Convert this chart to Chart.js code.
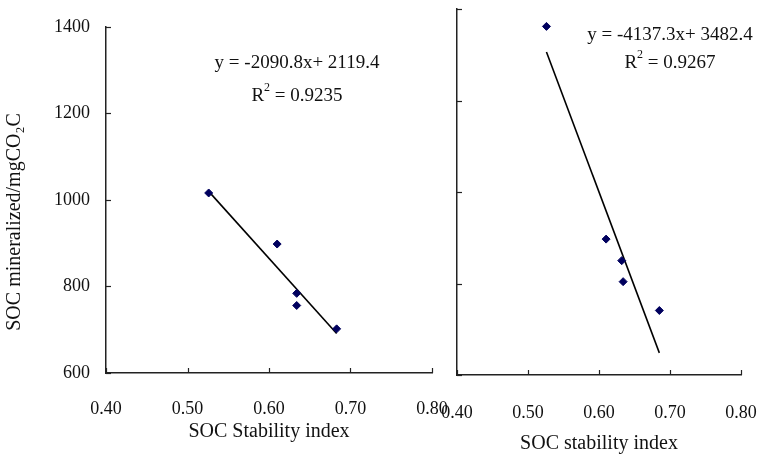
<!DOCTYPE html>
<html>
<head>
<meta charset="utf-8">
<title>SOC mineralized vs SOC stability index</title>
<script src="https://cdn.jsdelivr.net/npm/chart.js@4.4.0/dist/chart.umd.min.js"></script>
<style>
  body { margin: 0; background: #fff; }
  #wrap { position: relative; width: 760px; height: 455px; }
  canvas { position: absolute; top: 0; }
  #left { left: 0; }
  #right { left: 440px; }
</style>
</head>
<body>
<div id="wrap">
  <canvas id="left" width="450" height="455"></canvas>
  <canvas id="right" width="320" height="455"></canvas>
</div>
<script>
// axis ticks shared by both panels
var xTicks = [0.40, 0.50, 0.60, 0.70, 0.80];
var yTicks = [600, 800, 1000, 1200, 1400];

// left panel
var leftIndex = [0.526, 0.610, 0.634, 0.634, 0.683];
var leftMineral = [1016, 898, 784, 756, 702];
var leftFit = [-2090.8, 2119.4];   // slope, intercept
var leftR2 = '0.9235';

// right panel
var rightIndex = [0.526, 0.610, 0.632, 0.634, 0.685];
var rightMineral = [1362, 897, 850, 804, 741];
var rightFit = [-4137.3, 3482.4];
var rightR2 = '0.9267';

var SERIF = "'Liberation Serif', 'Times New Roman', serif";
var INK = '#111';
var AXIS = '#222';

function points(xs, ys) {
    return xs.map(function(x, i) { return {x: x, y: ys[i]}; });
}

// fitted line spans the observed index range
function fitLine(xs, fit) {
    var lo = Math.min.apply(null, xs), hi = Math.max.apply(null, xs);
    return [lo, hi].map(function(x) { return {x: x, y: fit[0] * x + fit[1]}; });
}

function eqText(fit) {
    return 'y = ' + fit[0].toFixed(1) + 'x+ ' + fit[1].toFixed(1);
}

// short tick marks pointing into the plot
var inwardTicks = {
    id: 'inwardTicks',
    afterDraw: function(chart) {
        var ctx = chart.ctx, a = chart.chartArea;
        var sx = chart.scales.x, sy = chart.scales.y;
        ctx.save();
        ctx.strokeStyle = AXIS;
        ctx.lineWidth = 1.2;
        sx.ticks.forEach(function(t) {
            var px = Math.round(sx.getPixelForValue(t.value)) + 0.5;
            ctx.beginPath(); ctx.moveTo(px, a.bottom); ctx.lineTo(px, a.bottom - 5); ctx.stroke();
        });
        sy.ticks.forEach(function(t) {
            var py = Math.round(sy.getPixelForValue(t.value)) + 0.5;
            ctx.beginPath(); ctx.moveTo(a.left, py); ctx.lineTo(a.left + 5, py); ctx.stroke();
        });
        ctx.restore();
    }
};

// equation, R^2 and axis titles
var notes = {
    id: 'notes',
    afterDraw: function(chart, args, o) {
        var ctx = chart.ctx;
        ctx.save();
        ctx.fillStyle = INK;
        ctx.textBaseline = 'middle';
        ctx.textAlign = 'center';

        ctx.font = '19px ' + SERIF;
        ctx.fillText(o.equation, o.eqX, o.eqY);

        // R² with raised 2
        var head = 'R', tail = ' = ' + o.r2;
        var w1 = ctx.measureText(head).width, w3 = ctx.measureText(tail).width;
        ctx.font = '12px ' + SERIF;
        var w2 = ctx.measureText('2').width;
        var x0 = o.eqX - (w1 + w2 + w3) / 2;
        ctx.textAlign = 'left';
        ctx.font = '19px ' + SERIF;
        ctx.fillText(head, x0, o.r2Y);
        ctx.font = '12px ' + SERIF;
        ctx.fillText('2', x0 + w1, o.r2Y - 8);
        ctx.font = '19px ' + SERIF;
        ctx.fillText(tail, x0 + w1 + w2, o.r2Y);

        ctx.textAlign = 'center';
        ctx.font = '20px ' + SERIF;
        ctx.fillText(o.xTitle, o.xTitleX, o.xTitleY);

        if (o.yTitle) {
            ctx.translate(o.yTitleX, o.yTitleY);
            ctx.rotate(-Math.PI / 2);
            ctx.fillText(o.yTitle, 0, 0);
        }
        ctx.restore();
    }
};

function panel(id, xs, ys, fit, r2, cfg) {
    var ctx = document.getElementById(id).getContext('2d');
    return new Chart(ctx, {
        type: 'scatter',
        data: {
            datasets: [{
                data: points(xs, ys),
                pointStyle: 'rectRot',
                pointRadius: 4,
                backgroundColor: '#00005e',
                borderColor: '#00005e',
                borderWidth: 1
            }, {
                data: fitLine(xs, fit),
                showLine: true,
                pointRadius: 0,
                borderColor: '#000',
                borderWidth: 1.6
            }]
        },
        options: {
            responsive: false,
            animation: false,
            devicePixelRatio: 1,
            layout: { padding: cfg.padding },
            plugins: {
                legend: { display: false },
                tooltip: { enabled: false },
                notes: {
                    equation: eqText(fit), r2: r2,
                    eqX: cfg.eqX, eqY: cfg.eqY, r2Y: cfg.r2Y,
                    xTitle: cfg.xTitle, xTitleX: cfg.xTitleX, xTitleY: cfg.xTitleY,
                    yTitle: cfg.yTitle, yTitleX: cfg.yTitleX, yTitleY: cfg.yTitleY
                }
            },
            scales: {
                x: {
                    type: 'linear',
                    min: xTicks[0],
                    max: xTicks[xTicks.length - 1],
                    afterBuildTicks: function(s) { s.ticks = xTicks.map(function(v) { return {value: v}; }); },
                    afterFit: function(s) {
                        s.height = cfg.xAxisHeight;
                        s.paddingLeft = 0;
                        s.paddingRight = 0;
                    },
                    grid: { drawOnChartArea: false, drawTicks: false },
                    border: { color: AXIS, width: 1.5 },
                    ticks: {
                        padding: cfg.xTickPad,
                        color: INK,
                        font: { family: SERIF, size: 18 },
                        maxRotation: 0,
                        autoSkip: false,
                        callback: function(v) { return Number(v).toFixed(2); }
                    }
                },
                y: {
                    type: 'linear',
                    min: yTicks[0],
                    max: yTicks[yTicks.length - 1],
                    afterBuildTicks: function(s) { s.ticks = yTicks.map(function(v) { return {value: v}; }); },
                    afterFit: function(s) { s.width = cfg.yAxisWidth; },
                    grid: { drawOnChartArea: false, drawTicks: false },
                    border: { color: AXIS, width: 1.5 },
                    ticks: {
                        display: cfg.yLabels,
                        padding: 16,
                        color: INK,
                        font: { family: SERIF, size: 18 },
                        callback: function(v) { return String(v); }
                    }
                }
            }
        },
        plugins: [inwardTicks, notes]
    });
}

panel('left', leftIndex, leftMineral, leftFit, leftR2, {
    padding: { left: 0, top: 20, right: 18, bottom: 0 },
    xAxisHeight: 82, yAxisWidth: 106, xTickPad: 25, yLabels: true,
    eqX: 297, eqY: 63, r2Y: 96,
    xTitle: 'SOC Stability index', xTitleX: 269, xTitleY: 432,
    yTitle: 'SOC mineralized/mgCO\u2082C', yTitleX: 15, yTitleY: 222
});

panel('right', rightIndex, rightMineral, rightFit, rightR2, {
    padding: { left: 0, top: 9, right: 19, bottom: 0 },
    xAxisHeight: 80, yAxisWidth: 17, xTickPad: 27, yLabels: false,
    eqX: 230, eqY: 35, r2Y: 63,
    xTitle: 'SOC stability index', xTitleX: 159, xTitleY: 444
});
</script>
</body>
</html>
